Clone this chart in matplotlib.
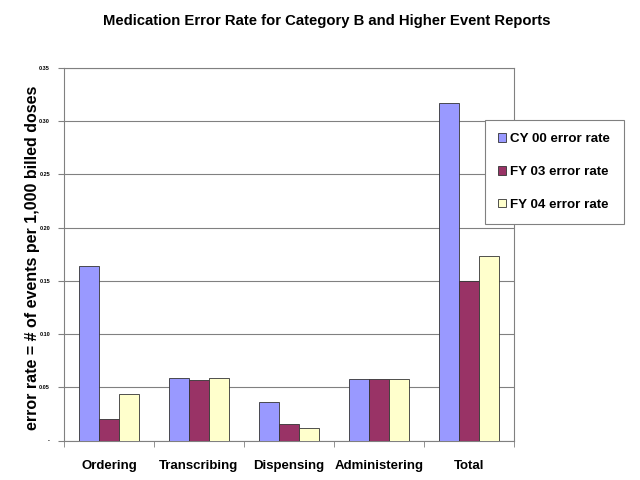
import matplotlib
matplotlib.use("Agg")
import matplotlib.pyplot as plt
import numpy as np

plt.rcParams['font.family'] = ['Liberation Sans', 'DejaVu Sans']

categories = ["Ordering", "Transcribing", "Dispensing", "Administering", "Total"]
series_names = ["CY 00 error rate", "FY 03 error rate", "FY 04 error rate"]
cy00 = [0.164, 0.059, 0.036, 0.058, 0.317]
fy03 = [0.020, 0.057, 0.016, 0.058, 0.150]
fy04 = [0.044, 0.059, 0.012, 0.058, 0.173]
colors = ["#9999FF", "#993366", "#FFFFCC"]
yticks = [0, 0.05, 0.10, 0.15, 0.20, 0.25, 0.30, 0.35]
ytick_labels = ["-", "0.05", "0.10", "0.15", "0.20", "0.25", "0.30", "0.35"]

fig = plt.figure(figsize=(6.4, 4.8), dpi=100)
ax = fig.add_axes([0.1, 0.082, 0.703, 0.777])

x = np.arange(len(categories))
w = 0.222
for i, (vals, name, c) in enumerate(zip([cy00, fy03, fy04], series_names, colors)):
    ax.bar(x + (i - 1) * w, vals, width=w, color=c, edgecolor="#333333",
           linewidth=0.6, label=name, zorder=3)

ax.set_xlim(-0.5, len(categories) - 0.5)
ax.set_ylim(0, 0.35)
ax.set_yticks(yticks)
ax.set_yticklabels(ytick_labels, fontsize=4, fontweight='bold')
ax.yaxis.grid(True, color="#808080", linewidth=0.8, zorder=0)
ax.set_axisbelow(True)

ax.set_xticks(x)
ax.set_xticklabels(categories, fontsize=9.5, fontweight='bold')
ax.tick_params(axis='x', which='major', length=0, pad=14)
ax.set_xticks(np.arange(-0.5, len(categories)), minor=True)
ax.tick_params(axis='x', which='minor', length=4, color="#808080")
ax.tick_params(axis='y', length=4, color="#808080", pad=6)

for s in ax.spines.values():
    s.set_color("#808080")
    s.set_linewidth(0.8)

ax.set_ylabel("error rate = # of events per 1,000 billed doses",
              fontsize=11.5, fontweight='bold')
ax.yaxis.set_label_coords(-0.053, 0.49)

fig.suptitle("Medication Error Rate for Category B and Higher Event Reports",
             fontsize=10.7, fontweight='bold', x=0.51, y=0.97)

leg = ax.legend(loc='upper left', bbox_to_anchor=(0.758, 0.75),
                bbox_transform=fig.transFigure,
                prop={'weight': 'bold', 'size': 9.6},
                handlelength=0.6, handleheight=0.6, handletextpad=0.3,
                labelspacing=1.55, borderpad=1.0, borderaxespad=0,
                fancybox=False, shadow=False,
                framealpha=1, edgecolor="#808080")
leg.get_frame().set_linewidth(0.8)

fig.savefig("out.png", dpi=100)
